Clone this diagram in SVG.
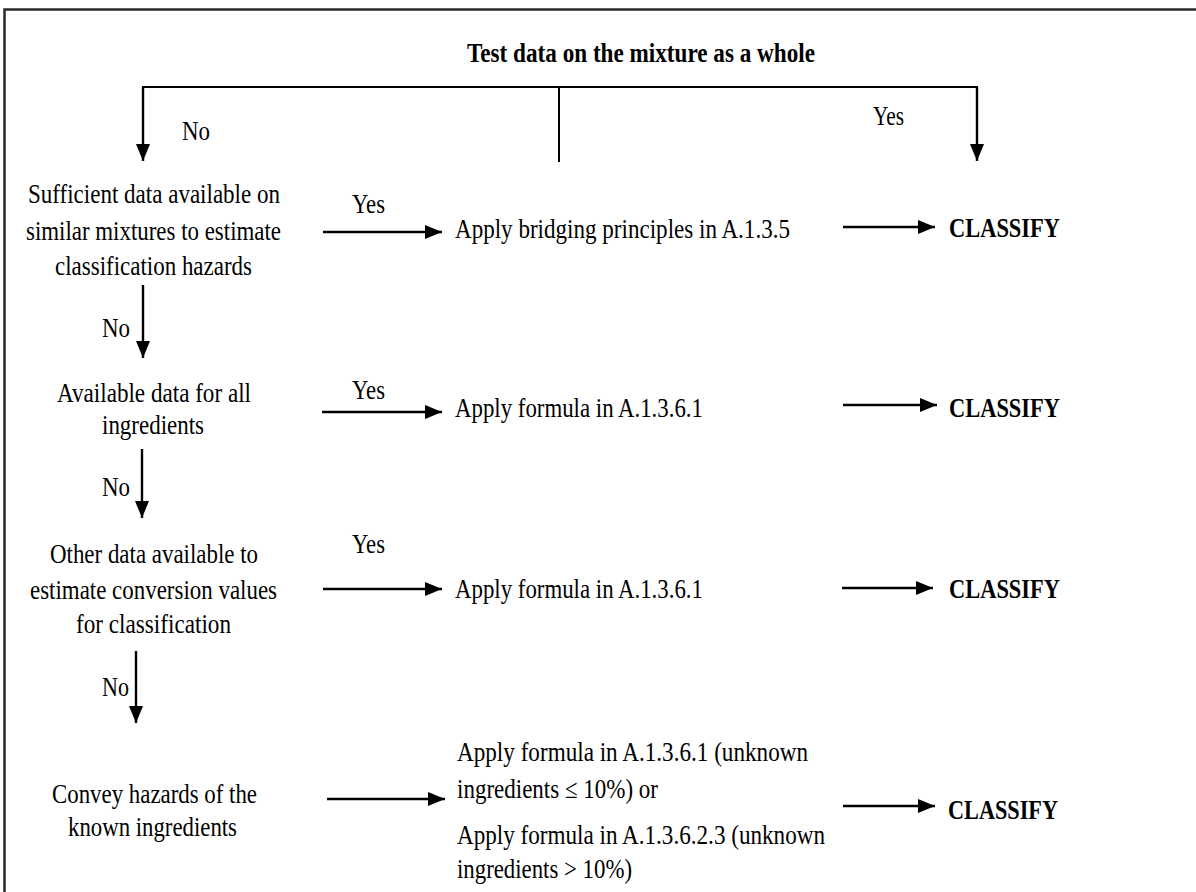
<svg xmlns="http://www.w3.org/2000/svg" width="1196" height="892" viewBox="0 0 1196 892">
<defs>
<marker id="ah" markerUnits="userSpaceOnUse" markerWidth="20" markerHeight="16" refX="17" refY="7" orient="auto">
<path d="M0,0 L17,7 L0,14 z" fill="#000"/>
</marker>
<style>
text{font-family:"Liberation Serif","Times New Roman",serif;font-size:27px;fill:#000}
.b{font-weight:bold}
.ln{stroke:#000;stroke-width:2;fill:none}
.ar{stroke:#000;stroke-width:2.4;fill:none;marker-end:url(#ah)}
</style>
</defs>
<rect x="4.5" y="9.5" width="1210" height="900" fill="#fff" stroke="#2a2a2a" stroke-width="2.5"/>

<g id="connectors">
<polyline class="ln" points="143,160 143,87 977,87 977,160"/>
<line class="ar" x1="143" y1="87" x2="143" y2="161"/>
<line class="ar" x1="977" y1="87" x2="977" y2="161"/>
<line class="ln" x1="559" y1="87" x2="559" y2="162"/>
<line class="ar" x1="143" y1="285" x2="143" y2="358"/>
<line class="ar" x1="142" y1="449" x2="142" y2="518"/>
<line class="ar" x1="136" y1="651" x2="136" y2="723"/>
<line class="ar" x1="323" y1="232" x2="442" y2="232"/>
<line class="ar" x1="322" y1="412" x2="442" y2="412"/>
<line class="ar" x1="323" y1="589" x2="442" y2="589"/>
<line class="ar" x1="327" y1="799" x2="445" y2="799"/>
<line class="ar" x1="843" y1="227" x2="935" y2="227"/>
<line class="ar" x1="843" y1="405" x2="937" y2="405"/>
<line class="ar" x1="842" y1="588" x2="933" y2="588"/>
<line class="ar" x1="843" y1="806" x2="935" y2="806"/>
</g>

<g id="labels">
<text x="182" y="140" textLength="28" lengthAdjust="spacingAndGlyphs">No</text>
<text x="873" y="125" textLength="31" lengthAdjust="spacingAndGlyphs">Yes</text>
<text x="352" y="213" textLength="33" lengthAdjust="spacingAndGlyphs">Yes</text>
<text x="102" y="337" textLength="28" lengthAdjust="spacingAndGlyphs">No</text>
<text x="352" y="399" textLength="33" lengthAdjust="spacingAndGlyphs">Yes</text>
<text x="102" y="496" textLength="28" lengthAdjust="spacingAndGlyphs">No</text>
<text x="352" y="553" textLength="33" lengthAdjust="spacingAndGlyphs">Yes</text>
<text x="102" y="696" textLength="27" lengthAdjust="spacingAndGlyphs">No</text>
</g>

<g id="start">
<text class="b" x="467" y="62" textLength="348" lengthAdjust="spacingAndGlyphs">Test data on the mixture as a whole</text>
</g>

<g id="q1">
<text x="28" y="203" textLength="252" lengthAdjust="spacingAndGlyphs">Sufficient data available on</text>
<text x="26" y="240" textLength="255" lengthAdjust="spacingAndGlyphs">similar mixtures to estimate</text>
<text x="55" y="275" textLength="197" lengthAdjust="spacingAndGlyphs">classification hazards</text>
</g>
<g id="a1">
<text x="455" y="238" textLength="335" lengthAdjust="spacingAndGlyphs">Apply bridging principles in A.1.3.5</text>
</g>
<g id="c1">
<text class="b" x="949" y="237" textLength="111" lengthAdjust="spacingAndGlyphs">CLASSIFY</text>
</g>

<g id="q2">
<text x="57" y="402" textLength="194" lengthAdjust="spacingAndGlyphs">Available data for all</text>
<text x="102" y="434" textLength="102" lengthAdjust="spacingAndGlyphs">ingredients</text>
</g>
<g id="a2">
<text x="455" y="417" textLength="248" lengthAdjust="spacingAndGlyphs">Apply formula in A.1.3.6.1</text>
</g>
<g id="c2">
<text class="b" x="949" y="417" textLength="111" lengthAdjust="spacingAndGlyphs">CLASSIFY</text>
</g>

<g id="q3">
<text x="50" y="563" textLength="208" lengthAdjust="spacingAndGlyphs">Other data available to</text>
<text x="30" y="599" textLength="247" lengthAdjust="spacingAndGlyphs">estimate conversion values</text>
<text x="76" y="633" textLength="155" lengthAdjust="spacingAndGlyphs">for classification</text>
</g>
<g id="a3">
<text x="455" y="598" textLength="248" lengthAdjust="spacingAndGlyphs">Apply formula in A.1.3.6.1</text>
</g>
<g id="c3">
<text class="b" x="949" y="598" textLength="111" lengthAdjust="spacingAndGlyphs">CLASSIFY</text>
</g>

<g id="q4">
<text x="52" y="803" textLength="205" lengthAdjust="spacingAndGlyphs">Convey hazards of the</text>
<text x="68" y="836" textLength="169" lengthAdjust="spacingAndGlyphs">known ingredients</text>
</g>
<g id="a4">
<text x="457" y="761" textLength="351" lengthAdjust="spacingAndGlyphs">Apply formula in A.1.3.6.1 (unknown</text>
<text x="457" y="798" textLength="201" lengthAdjust="spacingAndGlyphs">ingredients ≤ 10%) or</text>
<text x="457" y="844" textLength="368" lengthAdjust="spacingAndGlyphs">Apply formula in A.1.3.6.2.3 (unknown</text>
<text x="457" y="878" textLength="175" lengthAdjust="spacingAndGlyphs">ingredients &gt; 10%)</text>
</g>
<g id="c4">
<text class="b" x="948" y="819" textLength="110" lengthAdjust="spacingAndGlyphs">CLASSIFY</text>
</g>
</svg>
